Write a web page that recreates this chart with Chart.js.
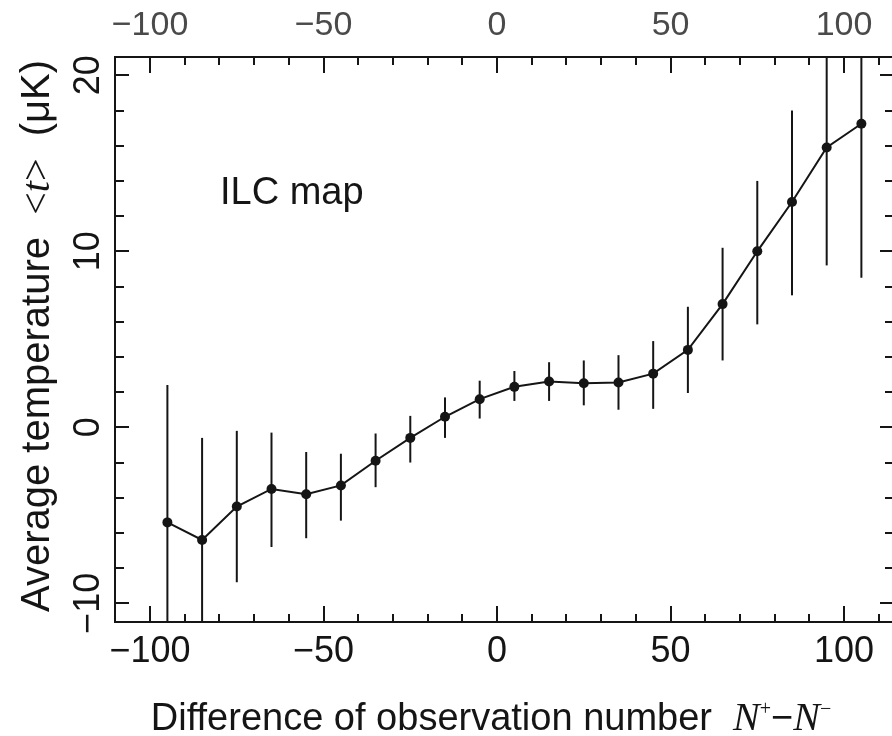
<!DOCTYPE html>
<html>
<head>
<meta charset="utf-8">
<script src="https://cdn.jsdelivr.net/npm/chart.js@4.4.1/dist/chart.umd.min.js"></script>
<style>
  html, body { margin: 0; padding: 0; background: #fff; overflow: hidden; }
  #chart { display: block; }
</style>
</head>
<body>
<canvas id="chart" width="900" height="736"></canvas>
<script>
// N+ - N- bins
const diffs = [-95, -85, -75, -65, -55, -45, -35, -25, -15, -5, 5, 15, 25, 35, 45, 55, 65, 75, 85, 95, 105];
// average temperature <t> in uK
const meanTemp = [-5.4, -6.4, -4.5, -3.5, -3.8, -3.3, -1.9, -0.6, 0.6, 1.6, 2.3, 2.6, 2.5, 2.55, 3.05, 4.4, 7.0, 10.0, 12.8, 15.9, 17.25];
const errLow = [-13.2, -12.2, -8.8, -6.8, -6.3, -5.3, -3.4, -2.0, -0.6, 0.5, 1.5, 1.5, 1.25, 1.0, 1.05, 1.95, 3.8, 5.85, 7.5, 9.2, 8.5];
const errHigh = [2.4, -0.6, -0.2, -0.3, -1.4, -1.5, -0.35, 0.65, 1.7, 2.65, 3.2, 3.7, 3.8, 4.1, 4.9, 6.85, 10.2, 14.0, 18.0, 22.6, 26.0];

const xTickLabels = [-100, -50, 0, 50, 100];
const xTicks = [-100, -90, -80, -70, -60, -50, -40, -30, -20, -10, 0, 10, 20, 30, 40, 50, 60, 70, 80, 90, 100, 110];
const yTickLabels = [-10, 0, 10, 20];
const yTicks = [-10, -8, -6, -4, -2, 0, 2, 4, 6, 8, 10, 12, 14, 16, 18, 20];

const SANS = '"Liberation Sans", Arial, sans-serif';
const SERIF = '"Liberation Serif", "Times New Roman", serif';
const INK = '#151515';

const fmt = v => (v < 0 ? '\u2212' + Math.abs(v) : String(v));

const errorBars = {
    id: 'errorBars',
    beforeDatasetsDraw(chart) {
        const { ctx, chartArea: a, scales: { x, y } } = chart;
        ctx.save();
        ctx.beginPath();
        ctx.rect(a.left, a.top, a.right - a.left, a.bottom - a.top);
        ctx.clip();
        ctx.strokeStyle = INK;
        ctx.lineWidth = 2;
        for (let i = 0; i < diffs.length; i++) {
            const px = x.getPixelForValue(diffs[i]);
            ctx.beginPath();
            ctx.moveTo(px, y.getPixelForValue(errLow[i]));
            ctx.lineTo(px, y.getPixelForValue(errHigh[i]));
            ctx.stroke();
        }
        ctx.restore();
    }
};

// runs of text with different fonts, drawn centred on (0,0)
function drawRuns(ctx, runs) {
    let total = 0;
    runs.forEach(r => { ctx.font = r.font; r.w = ctx.measureText(r.text).width; total += r.w; });
    let cx = -total / 2;
    runs.forEach(r => {
        ctx.font = r.font;
        ctx.fillText(r.text, cx, r.dy || 0);
        cx += r.w;
    });
}

const frame = {
    id: 'frame',
    afterDraw(chart) {
        const { ctx, chartArea: a, scales: { x, y } } = chart;
        ctx.save();
        ctx.strokeStyle = INK;
        ctx.lineWidth = 2;
        ctx.strokeRect(a.left, a.top, a.right - a.left, a.bottom - a.top);

        ctx.beginPath();
        xTicks.forEach(v => {
            const px = Math.round(x.getPixelForValue(v));
            const len = v % 50 === 0 ? 16 : 8;
            ctx.moveTo(px, a.bottom); ctx.lineTo(px, a.bottom - len);
            ctx.moveTo(px, a.top); ctx.lineTo(px, a.top + len);
        });
        yTicks.forEach(v => {
            const py = Math.round(y.getPixelForValue(v));
            const len = v % 10 === 0 ? 14 : 9;
            ctx.moveTo(a.left, py); ctx.lineTo(a.left + len, py);
            ctx.moveTo(a.right, py); ctx.lineTo(a.right - len, py);
        });
        ctx.stroke();

        // bottom + top tick labels
        ctx.textAlign = 'center';
        ctx.textBaseline = 'middle';
        xTickLabels.forEach(v => {
            const px = x.getPixelForValue(v);
            ctx.fillStyle = INK;
            ctx.font = '36px ' + SANS;
            ctx.fillText(fmt(v), px, 652);
            ctx.fillStyle = '#4a4a4a';
            ctx.font = '34px ' + SANS;
            ctx.fillText(fmt(v), px, 26);
        });

        // left tick labels, rotated
        ctx.fillStyle = INK;
        ctx.font = '36px ' + SANS;
        yTickLabels.forEach(v => {
            ctx.save();
            ctx.translate(89, y.getPixelForValue(v));
            ctx.rotate(-Math.PI / 2);
            ctx.fillText(fmt(v), 0, 0);
            ctx.restore();
        });

        // inset label
        ctx.textAlign = 'left';
        ctx.font = '38px ' + SANS;
        ctx.fillText('ILC map', 220, 194);

        // axis titles
        ctx.textAlign = 'left';
        ctx.textBaseline = 'alphabetic';
        ctx.save();
        ctx.translate(491, 730);
        drawRuns(ctx, [
            { text: 'Difference of observation number  ', font: '38px ' + SANS },
            { text: 'N', font: 'italic 40px ' + SERIF },
            { text: '+', font: '20px ' + SERIF, dy: -15 },
            { text: '\u2212', font: '38px ' + SANS },
            { text: 'N', font: 'italic 40px ' + SERIF },
            { text: '\u2212', font: '20px ' + SERIF, dy: -15 }
        ]);
        ctx.restore();

        ctx.save();
        ctx.translate(49, 336);
        ctx.rotate(-Math.PI / 2);
        drawRuns(ctx, [
            { text: 'Average temperature  ', font: '40px ' + SANS },
            { text: '<', font: '40px ' + SERIF },
            { text: 't', font: 'italic 40px ' + SERIF },
            { text: '>', font: '40px ' + SERIF },
            { text: '  (\u03BCK)', font: '40px ' + SANS }
        ]);
        ctx.restore();

        ctx.restore();
    }
};

const ctx = document.getElementById('chart').getContext('2d');
new Chart(ctx, {
    type: 'line',
    data: {
        datasets: [{
            data: diffs.map((d, i) => ({ x: d, y: meanTemp[i] })),
            borderColor: INK,
            borderWidth: 2,
            backgroundColor: INK,
            pointRadius: 5,
            pointBackgroundColor: INK,
            pointBorderWidth: 0,
            tension: 0,
            fill: false
        }]
    },
    options: {
        responsive: false,
        animation: false,
        devicePixelRatio: 1,
        layout: { padding: { left: 115, right: 6, top: 57, bottom: 114 } },
        plugins: { legend: { display: false }, tooltip: { enabled: false } },
        scales: {
            x: { type: 'linear', min: -110.1, max: 114.4, display: false },
            y: { type: 'linear', min: -11.06, max: 21.04, display: false }
        }
    },
    plugins: [errorBars, frame]
});
</script>
</body>
</html>
